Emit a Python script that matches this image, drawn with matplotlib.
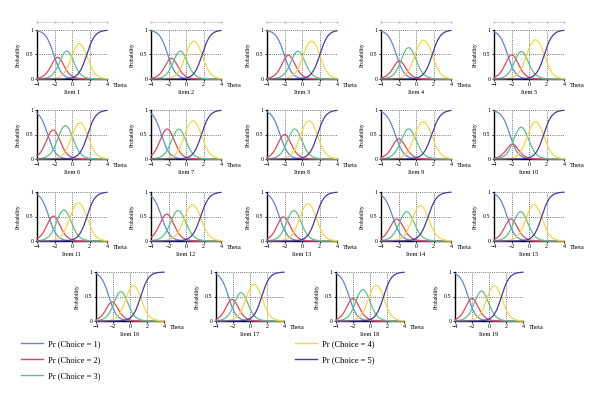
import numpy as np
import matplotlib.pyplot as plt
from matplotlib.lines import Line2D

plt.rcParams['font.family'] = ['Liberation Serif', 'DejaVu Serif']

# graded response model parameters
items = ["Item %d" % i for i in range(1, 20)]
slopes = [2.15, 2.15, 2.15, 2.15, 2.15, 2.15, 2.15, 2.15, 2.05, 2.15,
          2.15, 2.05, 2.15, 2.05, 2.15, 2.15, 2.15, 2.15, 2.15]
b1 = [-2.09, -2.09, -2.04, -2.26, -2.46, -2.78, -2.81, -2.51, -2.38, -2.19,
      -2.65, -2.80, -2.60, -2.67, -2.50, -2.48, -2.54, -2.46, -2.46]
b2 = [-1.21, -1.25, -1.06, -1.54, -1.46, -1.52, -1.49, -1.49, -1.53, -1.61,
      -1.61, -1.60, -1.60, -1.73, -1.60, -1.72, -1.66, -1.54, -1.54]
b3 = [0.00, -0.05, 0.14, -0.13, -0.28, 0.02, -0.17, -0.17, -0.14, -0.17,
      -0.23, -0.18, -0.25, -0.38, -0.31, -0.43, -0.43, -0.13, -0.22]
b4 = [1.69, 1.85, 2.04, 1.86, 1.76, 1.79, 1.77, 1.77, 1.80, 1.68,
      1.71, 1.67, 1.60, 1.39, 1.46, 1.26, 1.38, 1.60, 1.47]

labels = ["Pr (Choice = 1)", "Pr (Choice = 2)", "Pr (Choice = 3)",
          "Pr (Choice = 4)", "Pr (Choice = 5)"]
colors = ["#5b8bd6", "#e5475c", "#5cc28c", "#ffd43f", "#4b3aa6"]

xticks = [-4, -2, 0, 2, 4]
xticklabels = ["\u22124", "\u22122", "0", "2", "4"]

W, H = 600, 403
fig = plt.figure(figsize=(6.0, 4.03), dpi=100)

lefts_top = [37, 151, 267, 381, 494]
lefts_bot = [96, 216, 336, 455]
bottoms = [79, 159, 241, 321]

theta = np.linspace(-4, 4, 241)


def grm(a, bs):
    ps = [np.ones_like(theta)]
    for b in bs:
        ps.append(1 / (1 + np.exp(-a * (theta - b))))
    ps.append(np.zeros_like(theta))
    return [ps[k] - ps[k + 1] for k in range(5)]


for i, name in enumerate(items):
    row = i // 5
    if row < 3:
        left, w = lefts_top[i % 5], 70
    else:
        left, w = lefts_bot[i - 15], 68
    ax = fig.add_axes([left / W, 1 - bottoms[row] / H, w / W, 49 / H])

    probs = grm(slopes[i], [b1[i], b2[i], b3[i], b4[i]])
    for p, c in zip(probs, colors):
        ax.plot(theta, p, color=c, lw=0.9, clip_on=False, zorder=3)

    ax.set_xlim(-4, 4)
    ax.set_ylim(0, 1)
    for x in xticks[1:]:
        ax.axvline(x, color="#777777", ls=(0, (1, 1.2)), lw=0.7, zorder=1)
    for y in [0.5, 1]:
        ax.axhline(y, color="#777777", ls=(0, (1, 1.2)), lw=0.7, zorder=1)

    ax.spines["top"].set_visible(False)
    ax.spines["right"].set_visible(False)
    ax.spines["left"].set_linewidth(1.0)
    ax.spines["bottom"].set_linewidth(1.0)
    ax.set_xticks(xticks)
    ax.set_xticklabels(xticklabels)
    ax.set_yticks([0, 0.5, 1])
    ax.set_yticklabels(["0", "0.5", "1"])
    ax.tick_params(labelsize=4.3, length=1.5, width=0.6, pad=1)

    ax.text(-0.27, 0.5, "Probability", transform=ax.transAxes, rotation=90,
            ha="center", va="center", fontsize=4)
    ax.text(1.08, -0.13, "Theta", transform=ax.transAxes, ha="left",
            va="center", fontsize=4.6)
    ax.text(0.5, -0.27, name, transform=ax.transAxes, ha="center",
            va="center", fontsize=4.5)

    if row == 0:
        tr = ax.get_xaxis_transform()
        ax.plot(xticks, [1.16] * 5, transform=tr, color="#999999", lw=0.5,
                ls=(0, (1, 1)), marker="o", ms=1.0, mfc="white", mew=0.4,
                clip_on=False)

handles = [Line2D([], [], color=c, lw=1.0) for c in colors]
fig.legend(handles, labels, loc="upper left", bbox_to_anchor=(21 / W, 1 - 340 / H),
           ncol=2, frameon=False, fontsize=6, handlelength=2.6,
           handletextpad=0.6, labelspacing=0.95, columnspacing=23.4,
           borderpad=0, borderaxespad=0)

fig.savefig("out.png", dpi=100)
